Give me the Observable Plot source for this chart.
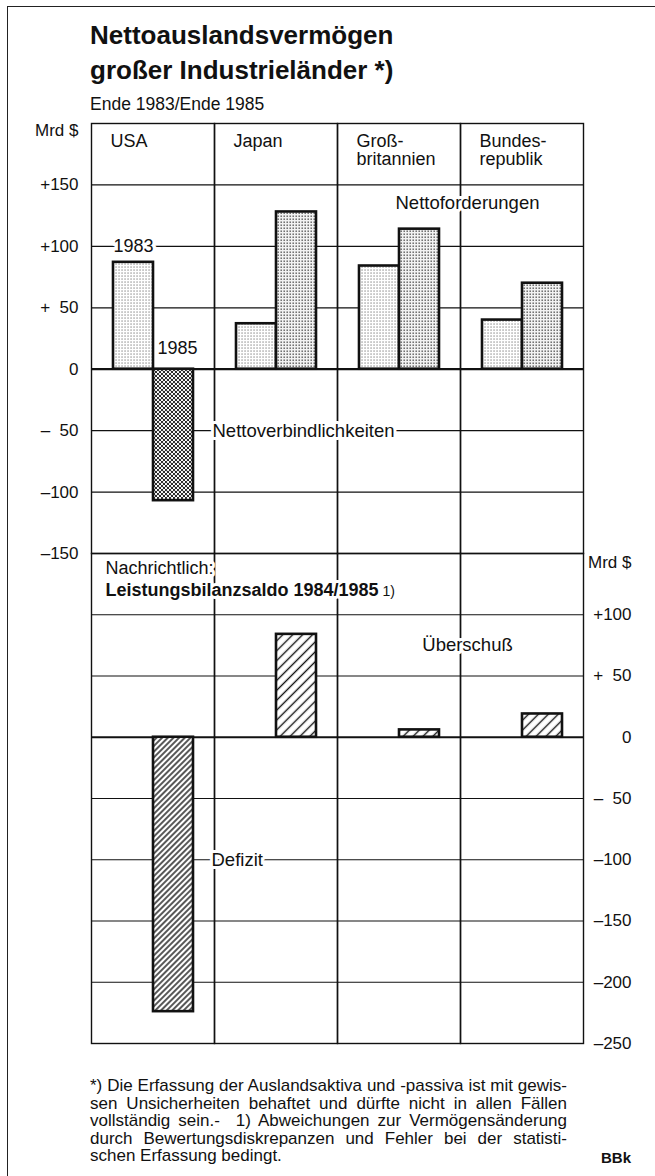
<!DOCTYPE html>
<html>
<head>
<meta charset="utf-8">
<script src="https://cdn.jsdelivr.net/npm/d3@7"></script>
<script src="https://cdn.jsdelivr.net/npm/@observablehq/plot@0.6"></script>
<style>
  body { margin: 0; background: #fff; }
  #page { position: relative; width: 655px; height: 1176px; overflow: hidden; background: #fff;
          font-family: "Liberation Sans", Arial, Helvetica, sans-serif; color: #111; }
  .abs { position: absolute; }
  #frameL { left: 7px; top: 6px; width: 0; height: 1170px; border-left: 1.5px solid #222; }
  #frameT { left: 7px; top: 6px; width: 648px; height: 0; border-top: 1.5px solid #222; }
  #title { left: 90px; top: 18px; font-size: 26px; font-weight: bold; line-height: 35px; }
  #subtitle { left: 90px; top: 94px; font-size: 17.5px; line-height: 20px; }
  #topChart { left: 0; top: 113px; }
  #bottomChart { left: 0; top: 551px; }
  #foot { left: 90px; top: 1077px; width: 477px; font-size: 17px; line-height: 17.5px; }
  #foot div { text-align: justify; text-align-last: justify; white-space: nowrap; }
  #foot div.last { text-align-last: left; }
  #bbk { left: 601px; top: 1149px; font-size: 15px; font-weight: bold; }
</style>
</head>
<body>
<svg width="0" height="0" style="position:absolute">
  <defs>
    <pattern id="p83" width="3" height="3" patternUnits="userSpaceOnUse">
      <rect width="3" height="3" fill="#fff"/>
      <rect x="0.5" y="0.5" width="1.1" height="1.1" fill="#666"/>
    </pattern>
    <pattern id="p85" width="3" height="3" patternUnits="userSpaceOnUse">
      <rect width="3" height="3" fill="#f2f2f2"/>
      <rect x="0.5" y="0.5" width="1.4" height="1.4" fill="#555"/>
    </pattern>
    <pattern id="pNeg" width="4" height="4" patternUnits="userSpaceOnUse">
      <rect width="4" height="4" fill="#fff"/>
      <circle cx="1" cy="1" r="1.15" fill="#222"/>
      <circle cx="3" cy="3" r="1.15" fill="#222"/>
    </pattern>
    <pattern id="hatch" width="7" height="7" patternUnits="userSpaceOnUse" patternTransform="rotate(45)">
      <rect width="7" height="7" fill="#fff"/>
      <line x1="3.5" y1="0" x2="3.5" y2="7" stroke="#111" stroke-width="1.4"/>
    </pattern>
    <pattern id="hatchDense" width="4" height="4" patternUnits="userSpaceOnUse" patternTransform="rotate(45)">
      <rect width="4" height="4" fill="#fff"/>
      <line x1="2" y1="0" x2="2" y2="4" stroke="#111" stroke-width="1.4"/>
    </pattern>
  </defs>
</svg>
<div id="page">
  <div class="abs" id="frameL"></div>
  <div class="abs" id="frameT"></div>
  <div class="abs" id="title">Nettoauslandsvermögen<br>großer Industrieländer *)</div>
  <div class="abs" id="subtitle">Ende 1983/Ende 1985</div>
  <div class="abs" id="topChart"></div>
  <div class="abs" id="bottomChart"></div>
  <div class="abs" id="foot">
    <div>*) Die Erfassung der Auslandsaktiva und -passiva ist mit gewis-</div>
    <div>sen Unsicherheiten behaftet und dürfte nicht in allen Fällen</div>
    <div>vollständig sein.- &nbsp;1) Abweichungen zur Vermögensänderung</div>
    <div>durch Bewertungsdiskrepanzen und Fehler bei der statisti-</div>
    <div class="last">schen Erfassung bedingt.</div>
  </div>
  <div class="abs" id="bbk">BBk</div>
</div>
<script>
// ---- data ----
const countries = ["USA", "Japan", "Großbritannien", "Bundesrepublik"];
const headerLabels = ["USA", "Japan", "Groß-\nbritannien", "Bundes-\nrepublik"];
const years = ["1983", "1985"];
const netAssets1983 = [87, 37, 84, 40];
const netAssets1985 = [-107, 128, 114, 70];
const currentAccount8485 = [-224, 84, 6, 19];
const topTicks = [150, 100, 50, 0, -50, -100, -150];
const topTickLabels = ["+150", "+100", "+\u200750", "0", "\u2013\u200750", "\u2013100", "\u2013150"];
const bottomTicks = [100, 50, 0, -50, -100, -150, -200, -250];
const bottomTickLabels = ["+100", "+\u200750", "0", "\u2013\u200750", "\u2013100", "\u2013150", "\u2013200", "\u2013250"];

// ---- tables ----
const netData = countries.flatMap((c, i) => [
  {country: c, year: years[0], value: netAssets1983[i]},
  {country: c, year: years[1], value: netAssets1985[i]}
]);
const caData = countries.map((c, i) => ({country: c, year: "1985", value: currentAccount8485[i]}));
const headerData = countries.map((c, i) => ({country: c, label: headerLabels[i]}));

const INK = "#111";
const FONT = '"Liberation Sans", Arial, Helvetica, sans-serif';
const halo = {stroke: "white", strokeWidth: 6, paintOrder: "stroke", fill: INK};
const common = {
  width: 655, marginLeft: 90, marginRight: 72,
  style: {background: "transparent", fontFamily: FONT, fontSize: "17px", color: INK, overflow: "visible"},
  fx: {domain: countries, padding: 0, axis: null, label: null},
  x: {domain: years, paddingInner: 0, paddingOuter: 0.52, axis: null}
};

const topPlot = Plot.plot({
  ...common,
  height: 442, marginTop: 10, marginBottom: 2,
  y: {domain: [-150, 200], axis: null, label: null},
  marks: [
    Plot.ruleY([150, 100, 50, -50, -100], {stroke: INK, strokeWidth: 1.2}),
    Plot.ruleY([0], {stroke: INK, strokeWidth: 2.2}),
    Plot.frame({stroke: INK, strokeWidth: 1.4}),
    Plot.barY(netData, {
      fx: "country", x: "year", y: "value",
      fill: d => d.value < 0 ? "url(#pNeg)" : d.year === "1983" ? "url(#p83)" : "url(#p85)",
      stroke: INK, strokeWidth: 2.6
    }),
    Plot.axisY(topTicks, {anchor: "left", tickSize: 0, tickPadding: 13, label: null,
      tickFormat: d => topTickLabels[topTicks.indexOf(d)], fill: INK}),
    Plot.text([{country: "USA"}], {fx: "country", frameAnchor: "left", y: () => 194,
      text: () => "Mrd $", textAnchor: "end", dx: -13, fill: INK}),
    Plot.text(headerData, {fx: "country", text: "label", frameAnchor: "top-left",
      lineAnchor: "top", dx: 19, dy: 11, fontSize: 18, fill: INK}),
    Plot.text([{country: "USA", year: "1983", value: 100}], {fx: "country", x: "year", y: "value",
      text: "year", fontSize: 18, ...halo, strokeWidth: 7}),
    Plot.text([{country: "USA", year: "1985", value: 17}], {fx: "country", x: "year", y: "value",
      text: "year", fontSize: 18, dx: 4, ...halo}),
    Plot.text([{country: "USA", value: -50}], {fx: "country", frameAnchor: "right", y: "value",
      text: () => "Nettoverbindlichkeiten", textAnchor: "start", dx: -2, fontSize: 18.5, ...halo}),
    Plot.text([{country: "Großbritannien", value: 135}], {fx: "country", frameAnchor: "right", y: "value",
      text: () => "Nettoforderungen", textAnchor: "middle", dx: 7, fontSize: 18.5, ...halo})
  ]
});

const bottomPlot = Plot.plot({
  ...common,
  height: 512, marginTop: 2, marginBottom: 20,
  y: {domain: [-250, 150], axis: null, label: null},
  marks: [
    Plot.ruleY([100, 50, -50, -100, -150, -200], {stroke: INK, strokeWidth: 1.2}),
    Plot.ruleY([0], {stroke: INK, strokeWidth: 2.2}),
    Plot.frame({stroke: INK, strokeWidth: 1.4}),
    Plot.barY(caData, {
      fx: "country", x: "year", y: "value",
      fill: d => d.value < -100 ? "url(#hatchDense)" : "url(#hatch)",
      stroke: INK, strokeWidth: 2.6
    }),
    Plot.axisY(bottomTicks, {anchor: "right", tickSize: 0, tickPadding: 48, textAnchor: "end", label: null,
      tickFormat: d => bottomTickLabels[bottomTicks.indexOf(d)], fill: INK}),
    Plot.text([{country: "Bundesrepublik"}], {fx: "country", frameAnchor: "right", y: () => 143,
      text: () => "Mrd $", textAnchor: "end", dx: 48, fill: INK}),
    Plot.text([{country: "USA", value: 138}], {fx: "country", frameAnchor: "left", y: "value",
      text: () => "Nachrichtlich:", textAnchor: "start", dx: 14, fontSize: 18, ...halo}),
    Plot.text([{country: "USA", value: 120}], {fx: "country", frameAnchor: "left", y: "value",
      text: () => "Leistungsbilanzsaldo 1984/1985", textAnchor: "start", dx: 14, fontSize: 18,
      fontWeight: "bold", ...halo}),
    Plot.text([{country: "Großbritannien", value: 75}], {fx: "country", frameAnchor: "right", y: "value",
      text: () => "Überschuß", textAnchor: "middle", dx: 7, fontSize: 18.5, ...halo}),
    Plot.text([{country: "USA", value: -100}], {fx: "country", frameAnchor: "right", y: "value",
      text: () => "Defizit", textAnchor: "start", dx: -3, fontSize: 18.5, ...halo})
  ]
});

// footnote marker after the bold label
for (const t of bottomPlot.querySelectorAll("text")) {
  if (t.textContent === "Leistungsbilanzsaldo 1984/1985") {
    const ts = document.createElementNS("http://www.w3.org/2000/svg", "tspan");
    ts.setAttribute("font-weight", "normal");
    ts.setAttribute("font-size", "14");
    ts.textContent = " 1)";
    t.appendChild(ts);
  }
}

document.getElementById("topChart").appendChild(topPlot);
document.getElementById("bottomChart").appendChild(bottomPlot);
</script>
</body>
</html>
